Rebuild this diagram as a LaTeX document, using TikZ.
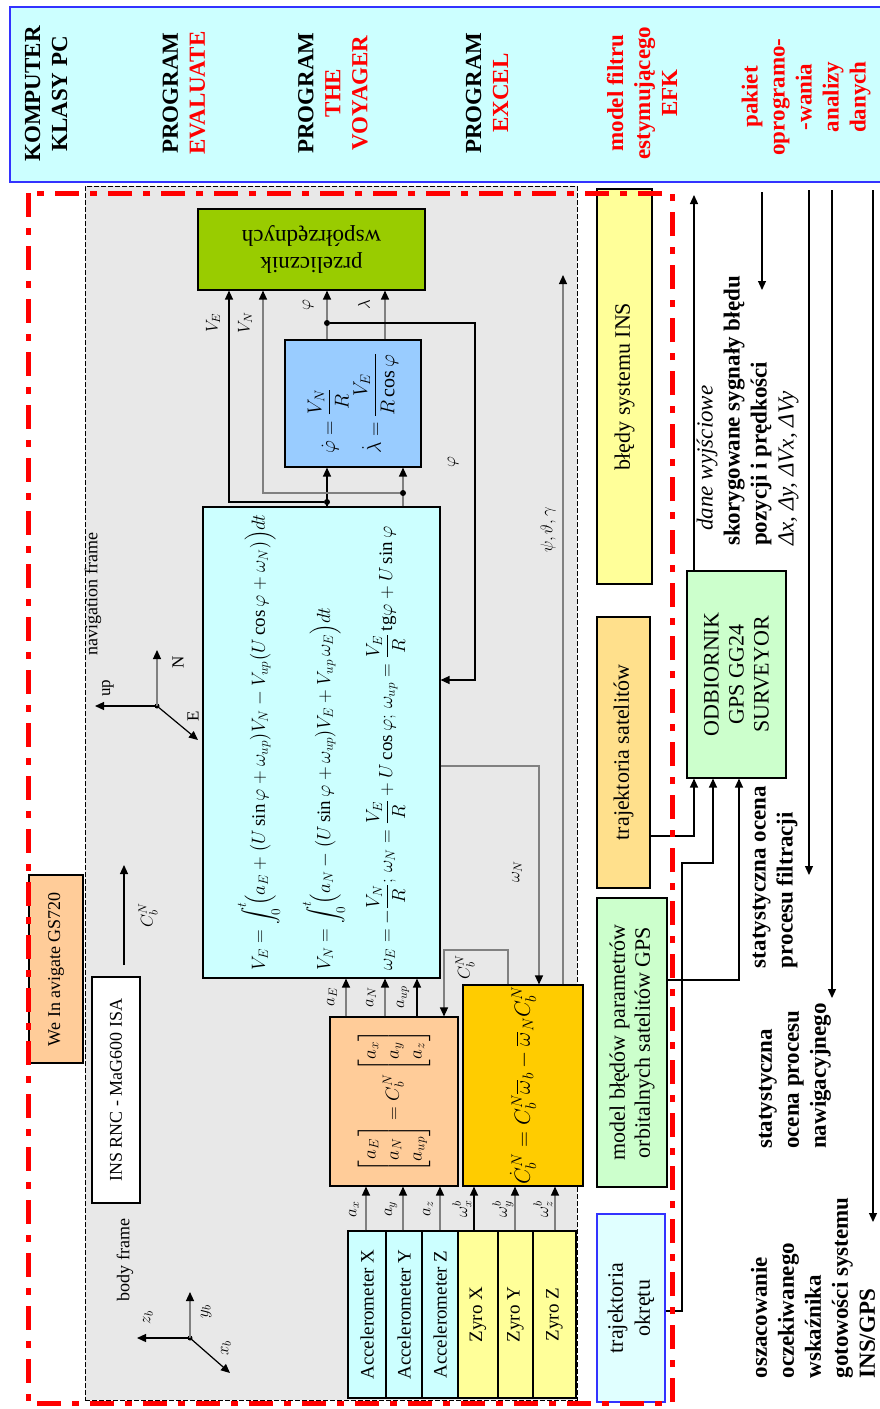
\documentclass[tikz,border=0pt]{standalone}
\usepackage{fix-cm}
\usepackage{amsmath}
\usepackage{fontspec}
\setmainfont{Liberation Serif}
\usetikzlibrary{arrows.meta, positioning}
\definecolor{hdrbg}{HTML}{CCFFFF}
\definecolor{hdrline}{HTML}{3333FF}
\definecolor{panel}{HTML}{E8E8E8}
\definecolor{navbg}{HTML}{CCFFFF}
\definecolor{latbg}{HTML}{99CCFF}
\definecolor{convbg}{HTML}{99CC00}
\definecolor{matbg}{HTML}{FFCC99}
\definecolor{dcmbg}{HTML}{FFCC00}
\definecolor{gyrobg}{HTML}{FFFF99}
\definecolor{gpsbg}{HTML}{CCFFCC}
\definecolor{satbg}{HTML}{FFE08C}
\definecolor{shipbg}{HTML}{E0FFFF}
\definecolor{wire}{HTML}{808080}

\begin{document}
\begin{tikzpicture}[
    x=1pt, y=-1pt,
    hd/.style={rotate=90, align=center, inner sep=1pt, font=\fontsize{23}{27}\selectfont\bfseries},
    vbox/.style={draw, line width=1.1pt, rotate=90, align=center, inner sep=1pt,
                 font=\fontsize{22}{25}\selectfont},
    vtxt/.style={rotate=90, align=left, inner sep=1pt, font=\fontsize{23}{27}\selectfont\bfseries},
    sig/.style={rotate=90, inner sep=1pt, font=\fontsize{17}{20}\selectfont},
    arr/.style={line width=1.2pt, -{Triangle[length=9pt,width=8pt]}},
    garr/.style={line width=1.2pt, draw=wire, -{Triangle[length=9pt,width=8pt,color=black]}},
    junc/.style={circle, fill, inner sep=0pt, minimum size=6pt},
    redframe/.style={draw=red, line width=5pt, dash pattern=on 24pt off 11pt on 7pt off 11pt}
  ]
    \useasboundingbox (0,0) rectangle (880,1409);

    % header strip
    \node[draw=hdrline, line width=1.5pt, fill=hdrbg, anchor=north west, inner sep=0pt,
          minimum width=890pt, minimum height=175pt] (hdr) at (9,6) {};
    \node[hd] (hpc) at (46,94) {KOMPUTER\\KLASY PC};
    \node[hd] (hev) at (184,93) {PROGRAM\\\textcolor{red}{EVALUATE}};
    \node[hd] (hvoy) at (333,93) {PROGRAM\\\textcolor{red}{THE}\\\textcolor{red}{VOYAGER}};
    \node[hd] (hexc) at (487,93) {PROGRAM\\\textcolor{red}{EXCEL}};
    \node[hd, text=red] (hefk) at (642,93) {model filtru\\estymującego\\EFK};
    \node[hd, text=red] (hpak) at (806,97) {pakiet\\oprogramo-\\-wania\\analizy\\danych};

    % INS panel
    \node[draw, line width=0.8pt, dash pattern=on 5pt off 2pt, fill=panel, anchor=north west,
          inner sep=0pt, minimum width=492pt, minimum height=1214pt] (ins) at (85,186) {};

    \node[draw, line width=1.1pt, fill=convbg, rotate=180, align=center,
          minimum width=227pt, minimum height=81pt,
          font=\fontsize{23}{27}\selectfont] (conv) at (311.5,249.5) {przelicznik\\współrzędnych};
    \node[vbox, fill=latbg, minimum width=127pt, minimum height=136pt, align=left,
          font=\fontsize{20}{24}\selectfont] (lat) at (353,403.5)
      {$\dot\varphi=\dfrac{V_N}{R}$\\[4pt]$\dot\lambda=\dfrac{V_E}{R\cos\varphi}$};
    \node[vbox, fill=navbg, minimum width=471pt, minimum height=237pt, align=left,
          font=\fontsize{19}{23}\selectfont] (nav) at (321.5,742.5)
      {$\displaystyle V_E=\int_0^t\!\Bigl(a_E+\bigl(U\sin\varphi+\omega_{up}\bigr)V_N-V_{up}\bigl(U\cos\varphi+\omega_N\bigr)\Bigr)dt$\\[22pt]
       $\displaystyle V_N=\int_0^t\!\Bigl(a_N-\bigl(U\sin\varphi+\omega_{up}\bigr)V_E+V_{up}\,\omega_E\Bigr)dt$\\[20pt]
       $\displaystyle \omega_E=-\frac{V_N}{R};\,\omega_N=\frac{V_E}{R}+U\cos\varphi;\,\omega_{up}=\frac{V_E}{R}\,\mathrm{tg}\varphi+U\sin\varphi$};
    \node[vbox, fill=matbg, minimum width=169pt, minimum height=128pt,
          font=\fontsize{19}{23}\selectfont] (acc) at (394,1101.5)
      {$\begin{bmatrix}a_E\\a_N\\a_{up}\end{bmatrix}=C_b^N\begin{bmatrix}a_x\\a_y\\a_z\end{bmatrix}$};
    \node[vbox, fill=dcmbg, minimum width=201pt, minimum height=120pt,
          font=\fontsize{22}{26}\selectfont] (dcm) at (523,1085.5)
      {$\dot C_b^N=C_b^N\overline{\omega}_b-\overline{\omega}_N C_b^N$};

    % sensors
    \foreach \nm/\cx/\w/\fillc/\txt in {ax/367/38/navbg/Accelerometer X, ay/404/36/navbg/Accelerometer Y,
                                      az/440/36/navbg/Accelerometer Z, gx/478/40/gyrobg/Zyro X,
                                      gy/515.5/35/gyrobg/Zyro Y, gz/554.5/43/gyrobg/Zyro Z} {
      \node[vbox, fill=\fillc, minimum width=167pt, minimum height=\w*1pt,
            font=\fontsize{19}{22}\selectfont] (\nm) at (\cx,1314.5) {\txt};
    }
    \foreach \x/\lab/\tgt/\st in {366/a_x/acc/garr, 403/a_y/acc/garr, 440/a_z/acc/garr,
                                 474/\omega_x^b/dcm/arr, 515/\omega_y^b/dcm/garr, 555/\omega_z^b/dcm/garr} {
      \draw[\st] (\x,0 |- ax.east) -- (\x,0 |- \tgt.west);
      \node[sig] (s\x) at (\x-12,1209) {$\lab$};
    }
    \foreach \x/\lab/\st in {346/a_E/garr, 385/a_N/garr, 417/a_{up}/arr} {
      \draw[\st] (\x,0 |- acc.east) -- (\x,0 |- nav.west);
      \node[sig] (n\x) at (\x-14,997) {$\lab$};
    }

    % navigation outputs
    \draw[arr] (327,0 |- nav.east) -- (327,0 |- lat.west);
    \node[junc] (jE) at (327,502) {};
    \draw[arr] (jE) -| (229,0 |- conv.north);
    \draw[garr] (403,0 |- nav.east) -- (403,0 |- lat.west);
    \node[junc] (jN) at (403,493) {};
    \draw[garr] (jN) -| (263,0 |- conv.north);
    \draw[garr] (327,0 |- lat.east) -- (327,0 |- conv.north);
    \draw[garr] (385,0 |- lat.east) -- (385,0 |- conv.north);
    \node[junc] (jphi) at (327,323) {};
    \draw[arr] (jphi) -- (475,323) |- (nav.south |- 0,680);
    \node[sig] (lVE) at (213,323) {$V_E$};
    \node[sig] (lVN) at (245,323) {$V_N$};
    \node[sig] (lphi) at (308,305) {$\varphi$};
    \node[sig] (llam) at (364,305) {$\lambda$};
    \node[sig] (lphib) at (453,462) {$\varphi$};

    \draw[garr] (nav.south |- 0,766) -| (539,0 |- dcm.east);
    \node[sig] (lwN) at (517,872) {$\omega_N$};
    \coordinate (atttip) at (563,275);
    \draw[garr] (563,0 |- dcm.east) -- (atttip);
    \node[sig] (latt) at (548,530) {$\psi,\vartheta,\gamma$};
    \draw[garr] (508,0 |- dcm.east) -- (508,950) -| (444,0 |- acc.east);
    \node[sig] (lcbn) at (465,967) {$C_b^N$};

    % navigation frame
    \node[sig, font=\fontsize{18}{21}\selectfont] (nftxt) at (93,594) {navigation frame};
    \node[junc, minimum size=5pt] (nfo) at (157,706) {};
    \coordinate (nfup) at (95,706);
    \coordinate (nfn) at (157,650);
    \coordinate (nfe) at (198,740);
    \draw[arr] (nfo.center) -- (nfup);
    \draw[garr] (nfo.center) -- (nfn);
    \draw[arr] (nfo.center) -- (nfe);
    \node[sig] (lup) at (108,688) {up};
    \node[sig] (lnn) at (178,662) {N};
    \node[sig] (lee) at (193,716) {E};

    % body frame
    \node[sig, font=\fontsize{18}{21}\selectfont] (bftxt) at (125,1260) {body frame};
    \node[junc, minimum size=5pt] (bfo) at (190,1338) {};
    \coordinate (bfz) at (137,1338);
    \coordinate (bfy) at (190,1292);
    \coordinate (bfx) at (230,1373);
    \draw[arr] (bfo.center) -- (bfz);
    \draw[garr] (bfo.center) -- (bfy);
    \draw[arr] (bfo.center) -- (bfx);
    \node[sig] (lzb) at (148,1318) {$z_b$};
    \node[sig] (lyb) at (206,1312) {$y_b$};
    \node[sig] (lxb) at (226,1348) {$x_b$};

    \node[vbox, fill=white, minimum width=226pt, minimum height=48pt,
          font=\fontsize{18}{21}\selectfont] (rnc) at (116,1090) {INS RNC - MaG600 ISA};
    \coordinate (cbfoot) at (124,965);
    \coordinate (cbtip) at (124,865);
    \draw[arr] (cbfoot) -- (cbtip);
    \node[sig] (lcb) at (148,915) {$C_b^N$};
    \node[vbox, fill=matbg, minimum width=188pt, minimum height=54pt,
          font=\fontsize{18}{21}\selectfont] (wel) at (56,969) {We In avigate GS720};

    % GPS side
    \node[vbox, fill=gyrobg, minimum width=395pt, minimum height=55pt] (inserr) at (624.5,386.5) {błędy systemu INS};
    \node[vbox, fill=satbg, minimum width=271pt, minimum height=53pt] (sat) at (623.5,752.5) {trajektoria satelitów};
    \node[vbox, fill=gpsbg, minimum width=289pt, minimum height=70pt] (orb) at (632,1042.5)
      {model błędów parametrów\\orbitalnych satelitów GPS};
    \node[vbox, draw=hdrline, fill=shipbg, minimum width=188pt, minimum height=68pt,
          font=\fontsize{22}{27}\selectfont] (ship) at (631,1308) {trajektoria\\okrętu};
    \node[vbox, fill=gpsbg, minimum width=207pt, minimum height=99pt] (gps) at (736.5,674.5)
      {ODBIORNIK\\GPS GG24\\SURVEYOR};

    \draw[arr] (sat.south |- 0,836) -| (694,0 |- gps.west);
    \draw[arr] (ship.south |- 0,1311) -| (682,863) -| (713,0 |- gps.west);
    \draw[arr] (orb.south |- 0,980) -| (739,0 |- gps.west);
    \coordinate (outtip) at (694,195);
    \draw[arr] (694,0 |- gps.east) -- (outtip);
    \coordinate (fbtop) at (762,192);
    \coordinate (fbtip) at (762,290);
    \draw[arr] (fbtop) -- (fbtip);
    \foreach \x/\yend in {809/875, 832/998, 873/1222} {
      \coordinate (t\x) at (\x,190);
      \coordinate (e\x) at (\x,\yend);
      \draw[arr] (t\x) -- (e\x);
    }

    \node[sig, font=\fontsize{23}{27}\selectfont\itshape] (dwy) at (707,458) {dane wyjściowe};
    \node[vtxt] (corr) at (761,411)
      {skorygowane sygnały błędu\\pozycji i prędkości\\{\mdseries\itshape Δx, Δy, ΔVx, ΔVy}};
    \node[vtxt] (filt) at (775,877) {statystyczna ocena\\procesu filtracji};
    \node[vtxt] (navst) at (795,1076) {statystyczna\\ocena procesu\\nawigacyjnego};
    \node[vtxt] (ready) at (813,1288)
      {oszacowanie\\oczekiwanego\\wskaźnika\\gotowości systemu\\INS/GPS};

    % integration boundary
    \draw[redframe] (28,193) rectangle (672,1403);
  \end{tikzpicture}
\end{document}
